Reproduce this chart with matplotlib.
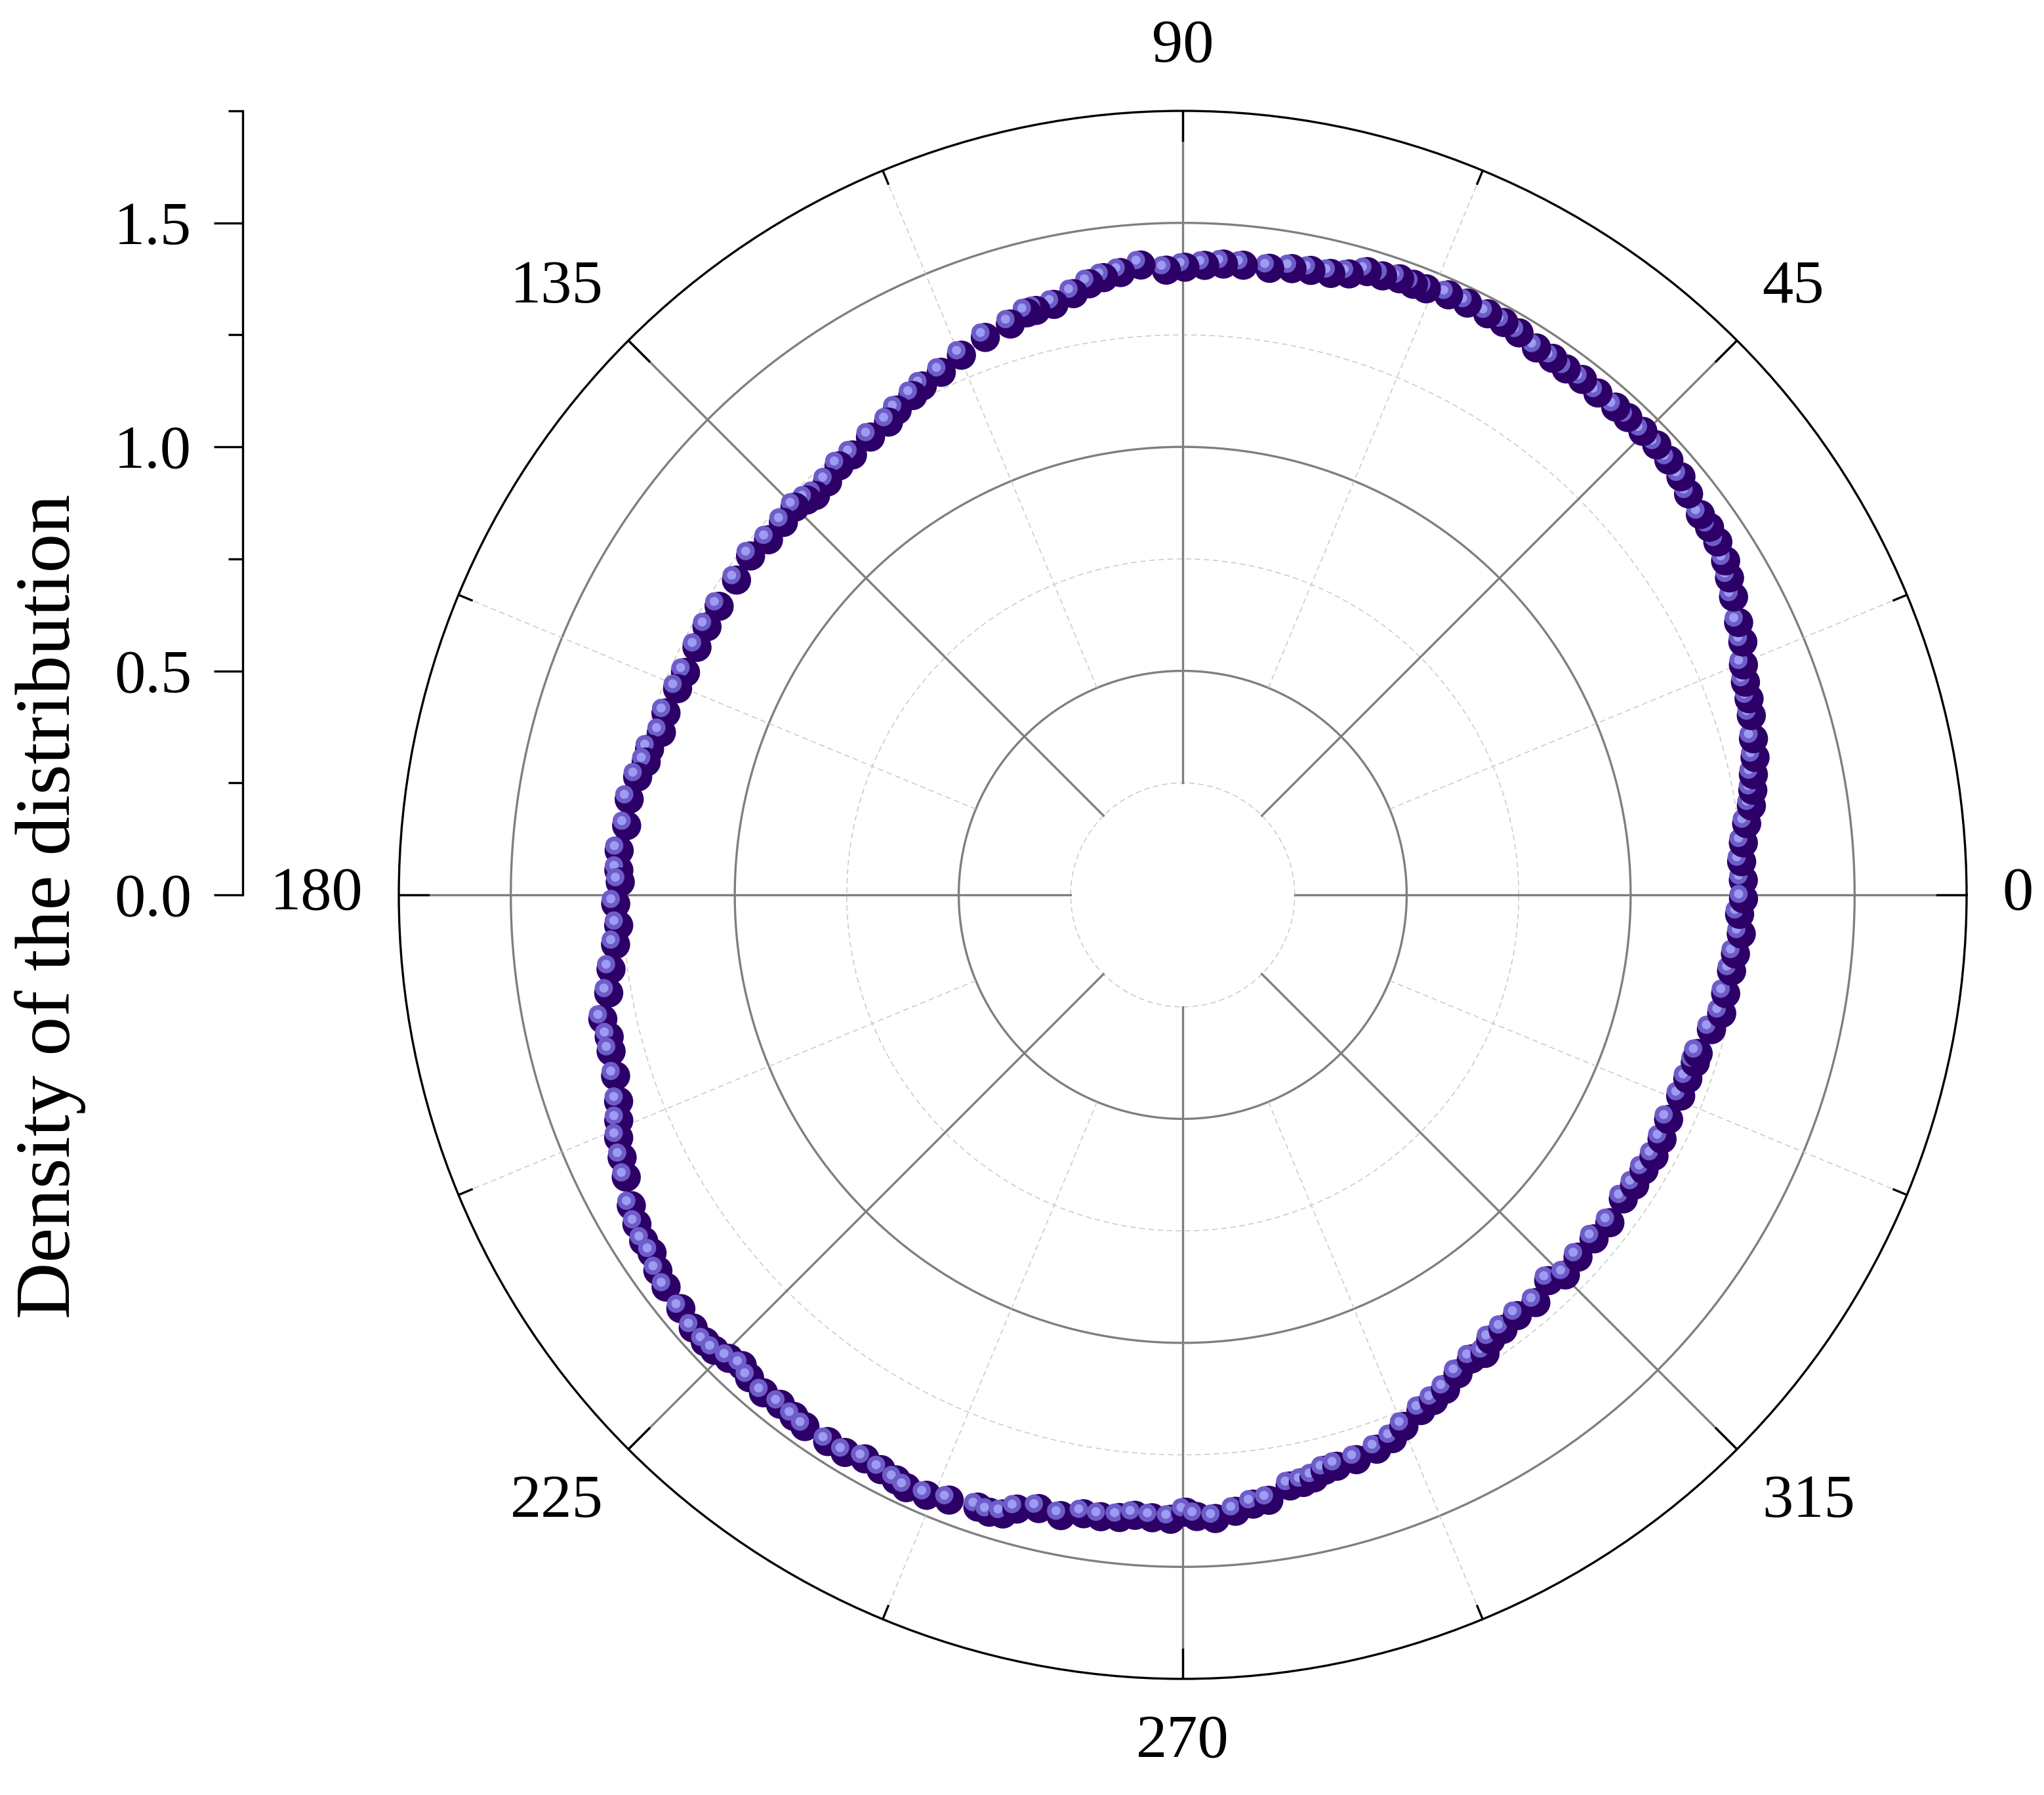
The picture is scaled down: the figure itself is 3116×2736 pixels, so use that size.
import numpy as np
import matplotlib
matplotlib.use("Agg")
import matplotlib.pyplot as plt
from matplotlib.path import Path

plt.rcParams['font.family'] = ['Liberation Serif', 'DejaVu Serif']

# angle (deg) and density
angle_deg = [
    1.5, 3.4, 5.3, 7.2, 8.9, 10.4, 11.9, 13.5, 15.3, 17.5, 19.1, 20.7, 22.3,
    24.3, 26.1, 28.4, 30.1, 31.6, 33.4, 34.9, 36.3, 38.4, 40.0, 41.8, 43.5,
    45.2, 47.0, 48.4, 50.4, 52.2, 53.9, 55.4, 57.1, 59.1, 60.7, 62.3, 64.3,
    66.1, 68.1, 69.3, 70.6, 72.1, 73.5, 75.0, 76.6, 78.4, 80.1, 82.1, 84.5,
    86.3, 88.0, 89.8,
    91.5, 93.8, 95.7, 97.3, 98.7, 100.3, 102.3, 104.1, 105.0, 106.8, 109.5,
    112.3, 114.8, 117.1, 118.4, 120.5, 121.9, 124.3, 126.9, 128.7, 130.7,
    132.6, 133.6, 135.0, 137.0, 139.4, 141.9, 144.8, 148.1, 150.6, 153.0,
    155.9, 157.8, 160.6, 162.7, 164.7, 166.1, 167.8, 170.2, 172.9, 175.5,
    177.5, 178.7,
    180.9, 183.1, 185.0, 187.4, 189.7, 192.1, 193.9, 195.3, 197.7, 200.1,
    201.8, 203.3, 205.1, 206.9, 209.4, 211.1, 212.7, 214.0, 215.6, 217.2,
    219.5, 221.5, 223.1, 224.2, 225.6, 226.9, 228.1, 229.9, 231.7, 233.3,
    234.6, 237.0, 238.8, 240.6, 242.3, 243.9, 245.0, 246.9, 248.9, 251.5,
    252.6, 253.8, 254.9, 256.8, 258.9, 260.9, 262.5, 264.2, 265.6, 267.2,
    268.9,
    270.3, 271.3, 273.0, 274.9, 276.6, 278.1, 280.3, 281.6, 282.7, 283.9,
    285.1, 287.1, 289.3, 291.1, 292.6, 294.8, 296.4, 298.0, 299.9, 301.9,
    303.4, 304.7, 306.4, 308.5, 310.9, 313.5, 315.2, 317.5, 320.1, 322.5,
    325.4, 327.3, 329.2, 331.0, 333.0, 335.2, 338.0, 340.0, 341.9, 342.9,
    345.7, 347.6, 349.7, 352.1, 353.9, 356.0, 358.0, 359.6,
]
density = [
    1.252, 1.250, 1.257, 1.269, 1.285, 1.294, 1.302, 1.314, 1.321, 1.331, 1.338, 1.343, 1.353,
    1.372, 1.382, 1.398, 1.411, 1.423, 1.431, 1.434, 1.434, 1.441, 1.452, 1.456, 1.459,
    1.458, 1.457, 1.456, 1.454, 1.456, 1.453, 1.455, 1.454, 1.462, 1.465, 1.465, 1.466,
    1.465, 1.458, 1.457, 1.458, 1.452, 1.451, 1.435, 1.426, 1.423, 1.419, 1.412, 1.412,
    1.411, 1.406, 1.401,
    1.395, 1.409, 1.396, 1.389, 1.380, 1.364, 1.349, 1.345, 1.345, 1.331, 1.320,
    1.302, 1.285, 1.276, 1.267, 1.256, 1.243, 1.237, 1.228, 1.227, 1.216,
    1.211, 1.217, 1.224, 1.219, 1.218, 1.226, 1.219, 1.219, 1.219, 1.217,
    1.216, 1.218, 1.223, 1.219, 1.234, 1.234, 1.245, 1.254, 1.251, 1.262,
    1.260, 1.256,
    1.266, 1.261, 1.271, 1.287, 1.300, 1.324, 1.319, 1.323, 1.329, 1.341,
    1.356, 1.371, 1.382, 1.393, 1.413, 1.423, 1.430, 1.429, 1.441, 1.448,
    1.452, 1.459, 1.460, 1.458, 1.448, 1.439, 1.448, 1.453, 1.449, 1.452,
    1.456, 1.455, 1.455, 1.445, 1.449, 1.454, 1.460, 1.457, 1.448, 1.441,
    1.444, 1.439, 1.420, 1.407, 1.412, 1.399, 1.400, 1.397, 1.389, 1.392,
    1.394,
    1.378, 1.388, 1.394, 1.381, 1.369, 1.365, 1.341, 1.339, 1.334, 1.323,
    1.321, 1.319, 1.311, 1.301, 1.285, 1.268, 1.260, 1.250, 1.233, 1.220,
    1.226, 1.208, 1.205, 1.200, 1.204, 1.187, 1.204, 1.197, 1.197, 1.202,
    1.195, 1.199, 1.199, 1.203, 1.201, 1.195, 1.199, 1.200, 1.204, 1.204,
    1.218, 1.232, 1.232, 1.237, 1.241, 1.250, 1.244, 1.252,
]

theta_ticks = [0, 45, 90, 135, 180, 225, 270, 315]
theta_labels = ['0', '45', '90', '135', '180', '225', '270', '315']
r_major = [0.0, 0.5, 1.0, 1.5]
r_minor = [0.25, 0.75, 1.25, 1.75]
r_max = 1.75

W, H, DPI = 3116, 2736, 200
fig = plt.figure(figsize=(W / DPI, H / DPI), dpi=DPI)

# polar area: centre and radius in pixels
cx, cy, R = 1803, 1364, 1195
ax = fig.add_axes([(cx - R) / W, (H - cy - R) / H, 2 * R / W, 2 * R / H],
                  projection='polar')
ax.set_ylim(0, r_max)
ax.set_xticks([])
ax.set_yticks([])
ax.grid(False)
ax.spines['polar'].set_linewidth(1.2)
ax.spines['polar'].set_color('black')

grid_c = '#7f7f7f'
dash_c = '#c4c4c4'
ring = np.linspace(0, 2 * np.pi, 721)
for r in [0.5, 1.0, 1.5]:
    ax.plot(ring, np.full_like(ring, r), color=grid_c, lw=1.2, zorder=1)
for r in [0.25, 0.75, 1.25]:
    ax.plot(ring, np.full_like(ring, r), color=dash_c, lw=0.5,
            ls=(0, (6, 4)), zorder=1)
for a in theta_ticks:
    t = np.deg2rad(a)
    ax.plot([t, t], [0.25, r_max], color=grid_c, lw=1.2, zorder=1)
    ax.plot([t, t], [r_max - 0.066, r_max], color='black', lw=1.2, zorder=3)
    tm = np.deg2rad(a + 22.5)
    ax.plot([tm, tm], [0.5, r_max], color=dash_c, lw=0.5,
            ls=(0, (6, 4)), zorder=1)
    ax.plot([tm, tm], [r_max - 0.032, r_max], color='black', lw=1.2, zorder=3)

# angle labels, pushed outward from the rim
gap = 19.5
for a, lab in zip(theta_ticks, theta_labels):
    c, s = np.cos(np.deg2rad(a)), np.sin(np.deg2rad(a))
    ha = 'center' if abs(c) < 0.1 else ('left' if c > 0 else 'right')
    va = 'center' if abs(s) < 0.1 else ('bottom' if s > 0 else 'top')
    ax.annotate(lab, xy=(np.deg2rad(a), r_max), xycoords='data',
                xytext=(gap * c, gap * s), textcoords='offset points',
                ha=ha, va=va, fontsize=34, annotation_clip=False)

# shaded sphere markers: dark body, lighter ring, bright core
body = Path.circle((0, 0), 8.0)
halo = Path.circle((-2.7, 2.7), 5.0)
core = Path.circle((-2.7, 2.7), 2.5)
th = np.deg2rad(np.array(angle_deg))
rr = np.array(density)
n = len(th)
sc = ax.scatter(np.repeat(th, 3), np.repeat(rr, 3), s=1,
                c=['#2c0066', '#6e5cc9', '#9d9cf2'] * n,
                linewidths=0, zorder=5, clip_on=False)
sc.set_paths([body, halo, core])

# the radial scale drawn as a separate axis on the left
ax2 = fig.add_axes([370 / W, (H - cy) / H, 0.0005, R / H])
ax2.set_ylim(0, r_max)
ax2.set_facecolor('none')
for side in ['top', 'right', 'bottom']:
    ax2.spines[side].set_visible(False)
ax2.spines['left'].set_linewidth(1.2)
ax2.set_xticks([])
ax2.set_yticks(r_major)
ax2.set_yticklabels(['%.1f' % v for v in r_major])
ax2.set_yticks(r_minor, minor=True)
ax2.tick_params(axis='y', which='major', length=16, width=1.2,
                labelsize=34, pad=12)
ax2.tick_params(axis='y', which='minor', length=8, width=1.2)

fig.text(77 / W, (H - 1381) / H, 'Density of the distribution',
         rotation=90, ha='center', va='center', fontsize=43)

fig.savefig('out.png', dpi=DPI)
